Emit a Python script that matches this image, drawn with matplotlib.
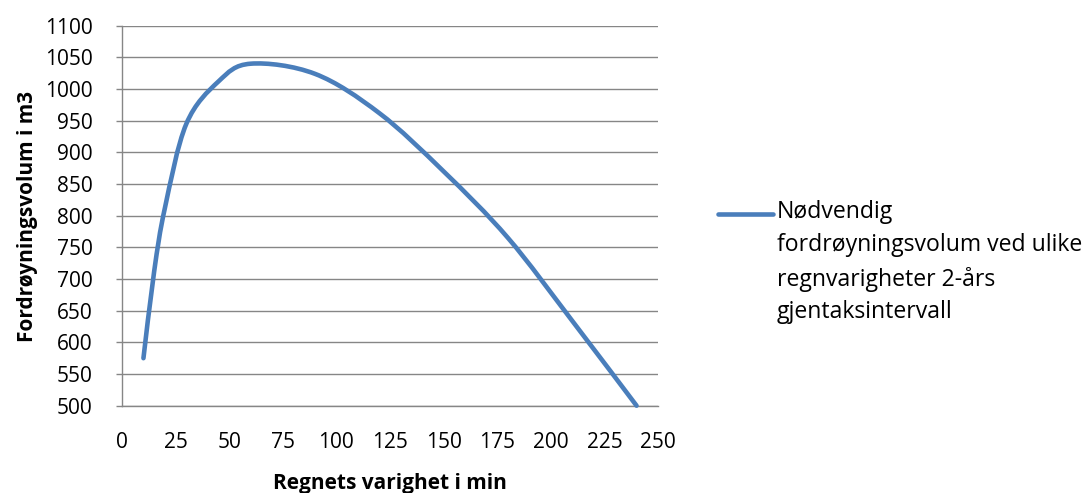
import matplotlib
matplotlib.use("Agg")
import matplotlib.pyplot as plt
from matplotlib.path import Path
from matplotlib.patches import PathPatch
from matplotlib.lines import Line2D

plt.rcParams['font.family'] = ['Open Sans', 'DejaVu Sans']

# Data
duration_min = [10, 15, 20, 30, 45, 60, 90, 120, 150, 180, 210, 240]
volume_m3 = [575, 712, 812, 945, 1012, 1040, 1024, 962, 870, 765, 634, 500]
x_ticks = [0, 25, 50, 75, 100, 125, 150, 175, 200, 225, 250]
y_ticks = [500, 550, 600, 650, 700, 750, 800, 850, 900, 950, 1000, 1050, 1100]
series_label = "Nødvendig\nfordrøyningsvolum ved ulike\nregnvarigheter 2-års\ngjentaksintervall"
x_label = "Regnets varighet i min"
y_label = "Fordrøyningsvolum i m3"

LINE_COLOR = "#4a7ebb"
GRID_COLOR = "#868686"
FS = 15

W, H = 1088, 493
fig = plt.figure(figsize=(W / 100, H / 100), dpi=100)
ax = fig.add_axes([122 / W, 1 - 405.7 / H, (658 - 122) / W, (405.7 - 25.7) / H])

# Smoothed line (Excel-like cubic Bezier through data points)
n = len(duration_min)
verts = [(duration_min[0], volume_m3[0])]
codes = [Path.MOVETO]
for i in range(n - 1):
    p0 = (duration_min[max(i - 1, 0)], volume_m3[max(i - 1, 0)])
    p1 = (duration_min[i], volume_m3[i])
    p2 = (duration_min[i + 1], volume_m3[i + 1])
    p3 = (duration_min[min(i + 2, n - 1)], volume_m3[min(i + 2, n - 1)])
    c1 = (p1[0] + (p2[0] - p0[0]) / 6, p1[1] + (p2[1] - p0[1]) / 6)
    c2 = (p2[0] - (p3[0] - p1[0]) / 6, p2[1] - (p3[1] - p1[1]) / 6)
    verts += [c1, c2, p2]
    codes += [Path.CURVE4] * 3
patch = PathPatch(Path(verts, codes), facecolor='none', edgecolor=LINE_COLOR,
                  lw=3.3, capstyle='round', joinstyle='round', zorder=3,
                  clip_on=False)
ax.add_patch(patch)

ax.set_xlim(0, 250)
ax.set_ylim(500, 1100)
ax.set_xticks(x_ticks)
ax.set_yticks(y_ticks)
ax.tick_params(axis='x', length=0, pad=19, labelsize=FS)
ax.tick_params(axis='y', length=4, width=1, color=GRID_COLOR, pad=17, labelsize=FS)
ax.grid(axis='y', color=GRID_COLOR, lw=1)
ax.set_axisbelow(True)
for s in ['top', 'right']:
    ax.spines[s].set_visible(False)
for s in ['left', 'bottom']:
    ax.spines[s].set_color(GRID_COLOR)
    ax.spines[s].set_linewidth(1)

ax.set_xlabel(x_label, fontsize=FS, fontweight='bold', labelpad=14)
fig.text(28 / W, 1 - 216 / H, y_label, fontsize=FS, fontweight='bold',
         rotation=90, ha='center', va='center')

# Legend (manual, handle aligned with first text line)
fig.add_artist(Line2D([718 / W, 773 / W], [1 - 214 / H, 1 - 214 / H],
                      transform=fig.transFigure, color=LINE_COLOR, lw=3.3,
                      solid_capstyle='round'))
fig.text(777 / W, 1 - 200 / H, series_label, fontsize=16.6, ha='left', va='top',
         linespacing=1.5)

fig.savefig("out.png", dpi=100)
